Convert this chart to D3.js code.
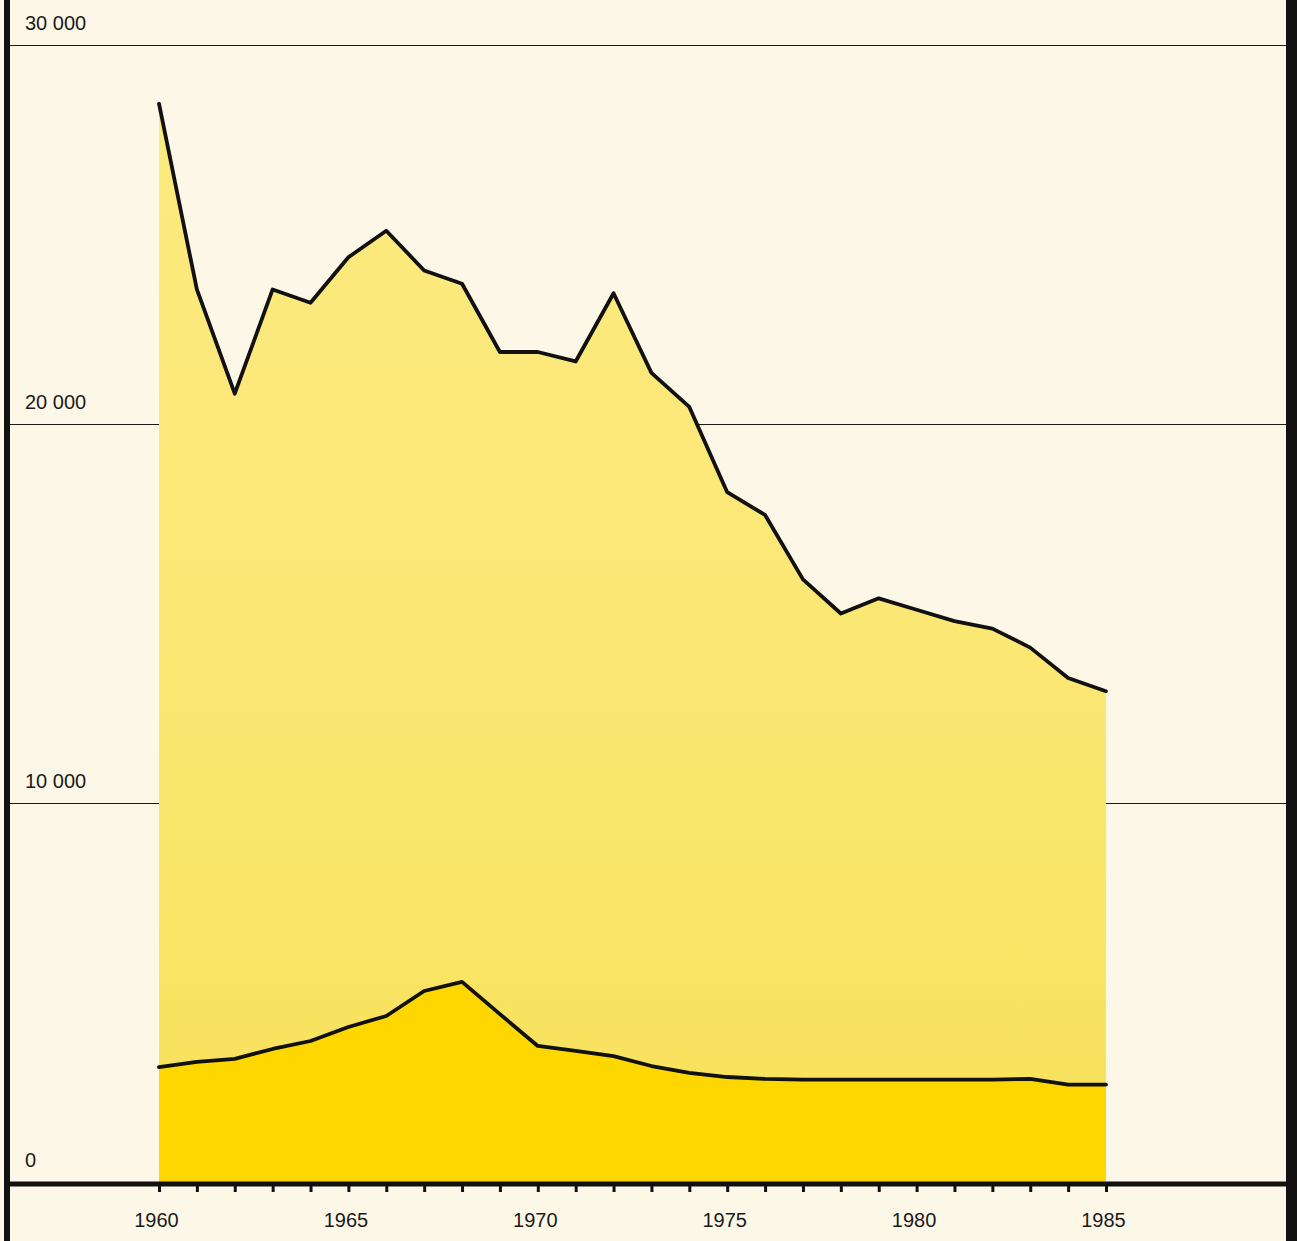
<!DOCTYPE html>
<html>
<head>
<meta charset="utf-8">
<script src="https://cdn.jsdelivr.net/npm/d3@7"></script>
<style>
  html, body { margin: 0; padding: 0; background: #fdf7e7; overflow: hidden; }
  svg { display: block; }
  text { font-family: "Liberation Sans", Arial, Helvetica, sans-serif; fill: #1a1a1a; }
</style>
</head>
<body>
<svg id="chart" width="1297" height="1241"></svg>
<script>
const years = [1960,1961,1962,1963,1964,1965,1966,1967,1968,1969,1970,1971,1972,1973,1974,1975,1976,1977,1978,1979,1980,1981,1982,1983,1984,1985];
const totalValues = [28450,23550,20800,23550,23200,24400,25100,24050,23700,21900,21900,21650,23450,21350,20450,18200,17600,15900,15000,15400,15100,14800,14600,14100,13300,12950];
const lowerValues = [3030,3170,3250,3510,3720,4090,4380,5040,5280,4430,3590,3460,3320,3060,2880,2770,2720,2700,2700,2700,2700,2700,2700,2720,2570,2570];
const yTicks = [0,10000,20000,30000];
const yTickLabels = ["0","10 000","20 000","30 000"];
const xLabelYears = [1960,1965,1970,1975,1980,1985];

const svg = d3.select("#chart");
const W = 1297, H = 1241;

const x = d3.scaleLinear().domain([1960, 1985]).range([159, 1106]);
const y = d3.scaleLinear().domain([0, 30000]).range([1182, 45]);

svg.append("rect").attr("width", W).attr("height", H).attr("fill", "#fdf7e7");

const defs = svg.append("defs");
const grad = defs.append("linearGradient").attr("id", "upperGrad")
  .attr("x1", 0).attr("y1", 0).attr("x2", 0).attr("y2", 1);
grad.append("stop").attr("offset", "0%").attr("stop-color", "#fcea80");
grad.append("stop").attr("offset", "55%").attr("stop-color", "#fbe772");
grad.append("stop").attr("offset", "100%").attr("stop-color", "#f7e158");

// gridlines
svg.append("g").selectAll("line").data(yTicks.filter(d => d > 0)).join("line")
  .attr("x1", 10).attr("x2", 1287)
  .attr("y1", d => Math.round(y(d)) + 0.5).attr("y2", d => Math.round(y(d)) + 0.5)
  .attr("stroke", "#1a1a1a").attr("stroke-width", 1);

const data = years.map((yr, i) => ({ yr, total: totalValues[i], lower: lowerValues[i] }));

const upperArea = d3.area().x(d => x(d.yr)).y0(d => y(0)).y1(d => y(d.total));
const lowerArea = d3.area().x(d => x(d.yr)).y0(d => y(0)).y1(d => y(d.lower));

svg.append("path").datum(data).attr("d", upperArea).attr("fill", "url(#upperGrad)");
svg.append("path").datum(data).attr("d", lowerArea).attr("fill", "#fed600");

const lineTotal = d3.line().x(d => x(d.yr)).y(d => y(d.total));
const lineLower = d3.line().x(d => x(d.yr)).y(d => y(d.lower));

svg.append("path").datum(data).attr("d", lineTotal)
  .attr("fill", "none").attr("stroke", "#111").attr("stroke-width", 3.8)
  .attr("stroke-linejoin", "round").attr("stroke-linecap", "round");
svg.append("path").datum(data).attr("d", lineLower)
  .attr("fill", "none").attr("stroke", "#111").attr("stroke-width", 3.8)
  .attr("stroke-linejoin", "round").attr("stroke-linecap", "round");

// y labels
svg.append("g").selectAll("text").data(yTicks).join("text")
  .attr("x", 25).attr("y", d => y(d) - 15)
  .attr("font-size", 20)
  .text((d, i) => yTickLabels[i]);

// x axis
const xAxis = d3.axisBottom(x)
  .tickValues(years)
  .tickSize(8)
  .tickFormat(d => xLabelYears.includes(d) ? String(d) : "");
const gx = svg.append("g").attr("transform", `translate(0,${y(0) + 2})`).call(xAxis);
gx.select(".domain").remove();
gx.selectAll(".tick line").attr("stroke", "#111").attr("stroke-width", 3);
gx.selectAll(".tick text").attr("font-size", 20).attr("fill", "#1a1a1a")
  .attr("font-family", "Liberation Sans, Arial, sans-serif")
  .attr("dy", "1.6em").attr("dx", -3);

// zero baseline
svg.append("line").attr("x1", 8).attr("x2", 1290)
  .attr("y1", y(0) + 2).attr("y2", y(0) + 2)
  .attr("stroke", "#111").attr("stroke-width", 5);

// frame borders
svg.append("rect").attr("x", 4).attr("y", 0).attr("width", 6).attr("height", H).attr("fill", "#111");
svg.append("rect").attr("x", 1286).attr("y", 0).attr("width", 11).attr("height", H).attr("fill", "#111");
</script>
</body>
</html>
